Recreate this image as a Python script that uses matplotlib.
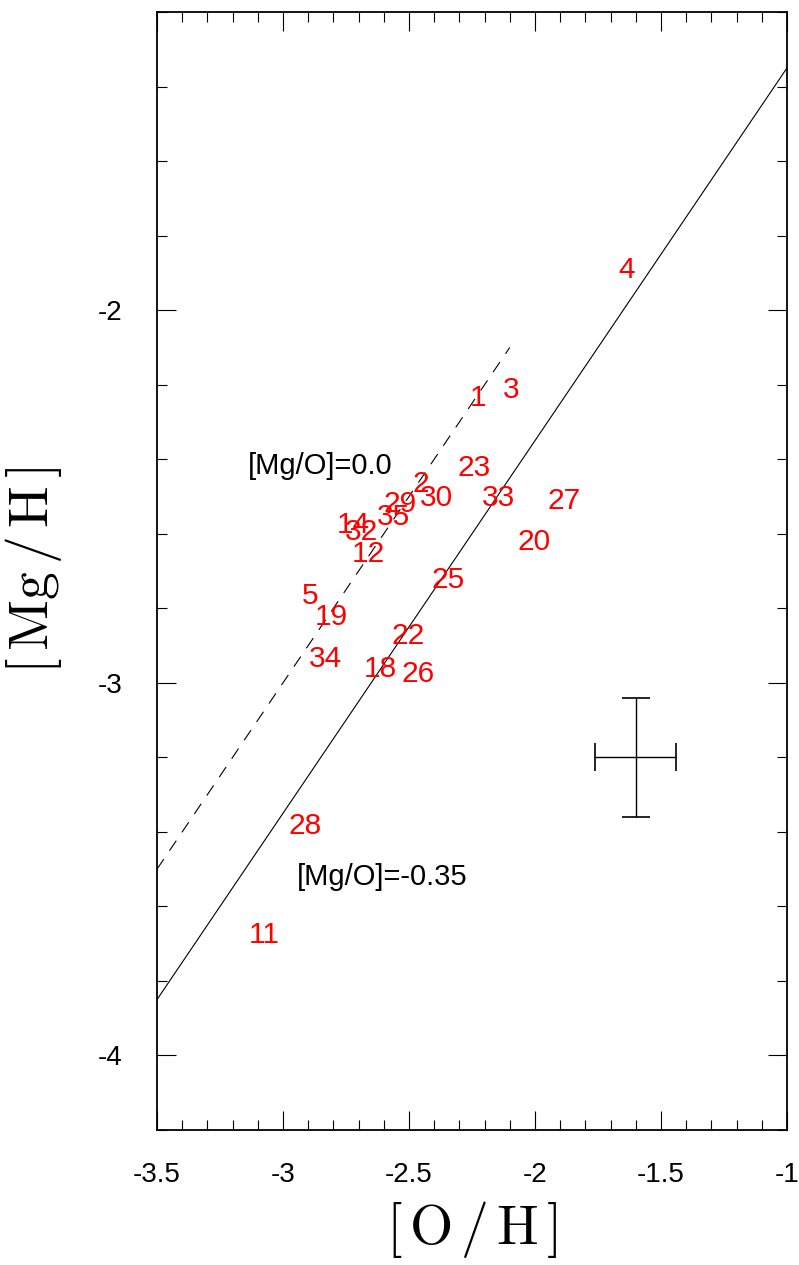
import matplotlib
matplotlib.use("Agg")
import matplotlib.pyplot as plt
import numpy as np
from matplotlib.ticker import MultipleLocator

# star labels and their positions ([O/H], [Mg/H])
star_ids = ["4", "1", "3", "23", "2", "30", "33", "27", "29", "35", "14", "32",
            "12", "20", "25", "5", "19", "22", "34", "18", "26", "28", "11"]
oh = [-1.635, -2.226, -2.095, -2.242, -2.452, -2.393, -2.143, -1.885, -2.536,
      -2.563, -2.722, -2.688, -2.663, -2.004, -2.345, -2.893, -2.810, -2.504,
      -2.833, -2.615, -2.464, -2.913, -3.075]
mgh = [-1.893, -2.236, -2.214, -2.424, -2.466, -2.504, -2.504, -2.512, -2.520,
       -2.555, -2.576, -2.595, -2.654, -2.622, -2.724, -2.767, -2.823, -2.874,
       -2.936, -2.962, -2.976, -3.383, -3.676]

# [Mg/O] reference lines
solar_x = [-3.5, -2.1]
offset = -0.35
fit_x = [-3.5, -1.0]

# typical error
err_x, err_y = -1.6, -3.2
err_dx, err_dy = 0.16, 0.16

plt.rcParams['font.family'] = ['Liberation Sans', 'DejaVu Sans']
plt.rcParams['mathtext.fontset'] = 'cm'

fig = plt.figure(figsize=(7.99, 12.65), dpi=100)
ax = fig.add_axes([0.1965, 0.1067, 0.7885, 0.8838])

ax.plot(solar_x, solar_x, color='black', lw=0.8, dashes=(11, 9))
ax.plot(fit_x, np.array(fit_x) + offset, color='black', lw=0.8)

for s, x, y in zip(star_ids, oh, mgh):
    ax.text(x, y, s, color='red', fontsize=21.5, ha='center', va='center')

ax.text(-2.853, -2.418, "[Mg/O]=0.0", fontsize=21, ha='center', va='center')
ax.text(-2.607, -3.52, "[Mg/O]=-0.35", fontsize=21, ha='center', va='center')

ax.errorbar([err_x], [err_y], xerr=err_dx, yerr=err_dy, color='black',
            lw=1, capsize=10, capthick=1.2)

ax.set_xlim(-3.5, -1.0)
ax.set_ylim(-4.2, -1.2)
ax.xaxis.set_major_locator(MultipleLocator(0.5))
ax.xaxis.set_minor_locator(MultipleLocator(0.1))
ax.yaxis.set_major_locator(MultipleLocator(1.0))
ax.yaxis.set_minor_locator(MultipleLocator(0.2))
ax.set_xticks([-3.5, -3, -2.5, -2, -1.5, -1])
ax.set_xticklabels(["-3.5", "-3", "-2.5", "-2", "-1.5", "-1"])
ax.set_yticks([-4, -3, -2])
ax.set_yticklabels(["-4", "-3", "-2"])

ax.tick_params(which='both', direction='in', top=True, right=True, width=0.8)
ax.tick_params(which='major', length=14, labelsize=20)
ax.tick_params(axis='x', which='major', pad=23)
ax.tick_params(axis='y', which='major', pad=25)
ax.tick_params(which='minor', length=7)
for sp in ax.spines.values():
    sp.set_linewidth(1.3)

ax.set_xlabel(r"$[\,\mathrm{O}\,/\,\mathrm{H}\,]$", fontsize=40, labelpad=8)
ax.set_ylabel(r"$[\,\mathrm{Mg}\,/\,\mathrm{H}\,]$", fontsize=40, labelpad=24)

fig.savefig("out.png", dpi=100)
